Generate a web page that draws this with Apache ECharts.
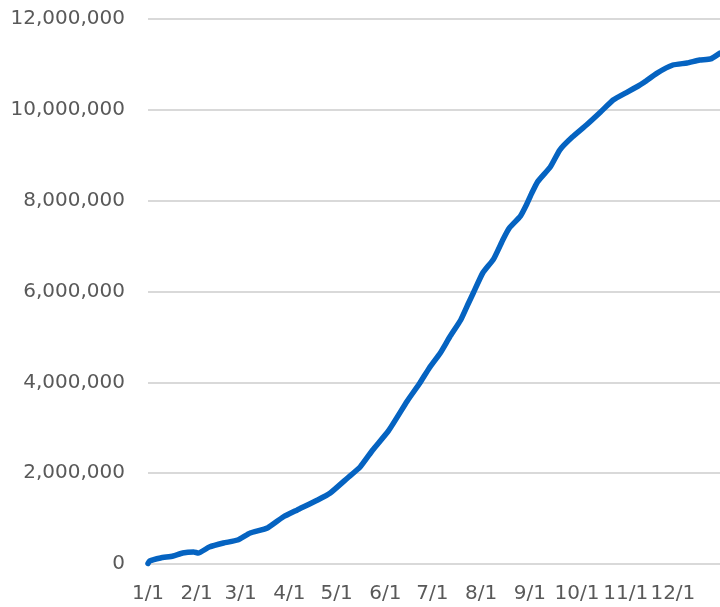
<!DOCTYPE html>
<html>
<head>
<meta charset="utf-8">
<script src="https://cdn.jsdelivr.net/npm/echarts@6/dist/echarts.min.js"></script>
<style>
  html, body { margin: 0; padding: 0; background: #ffffff; }
  #chart { width: 720px; height: 607px; }
</style>
</head>
<body>
<div id="chart"></div>
<script>
// Month lengths used to build the daily category axis (M/D)
const monthLengths = [31, 28, 31, 30, 31, 30, 31, 31, 30, 31, 30, 31];

// Cumulative total, sampled along the year
const sampleDates = [
  "1/1", "1/2", "1/9", "1/17", "1/23", "1/30", "2/2", "2/9", "2/18", "2/27",
  "3/7", "3/18", "3/28", "4/6", "4/19", "4/27", "5/8", "5/16", "5/24", "6/3",
  "6/15", "6/23", "6/29", "7/6", "7/12", "7/19", "7/24", "7/27", "8/2",
  "8/9", "8/15", "8/19", "8/26", "8/30", "9/2", "9/6", "9/14", "9/20", "9/28",
  "10/7", "10/16", "10/24", "11/2", "11/9", "11/12", "11/21", "12/1", "12/10", "12/18",
  "12/25", "12/31"
];
const sampleValues = [
  10000, 66000, 132000, 176000, 242000, 264000, 242000, 374000, 462000, 528000,
  683000, 793000, 1035000, 1190000, 1410000, 1563000, 1894000, 2136000, 2510000, 2930000,
  3590000, 3985000, 4316000, 4646000, 4998000, 5372000, 5747000, 5967000, 6407000,
  6720000, 7150000, 7400000, 7660000, 7920000, 8150000, 8420000, 8741000, 9115000, 9400000,
  9666000, 9952000, 10216000, 10392000, 10525000, 10590000, 10810000, 10987000, 11031000, 11097000,
  11120000, 11250000
];

// Y axis range
const yMin = 0;
const yMax = 12000000;
const yStep = 2000000;

const days = [];
monthLengths.forEach((len, m) => {
  for (let d = 1; d <= len; d++) days.push((m + 1) + "/" + d);
});

const chart = echarts.init(document.getElementById("chart"), null, { renderer: "canvas" });
const fontFamily = "'DejaVu Sans', sans-serif";

chart.setOption({
  animation: false,
  backgroundColor: "#ffffff",
  grid: { left: 148, right: 0, top: 19, bottom: 43, containLabel: false },
  xAxis: {
    type: "category",
    data: days,
    boundaryGap: false,
    axisLine: { show: true, lineStyle: { color: "#d9d9d9", width: 2 } },
    axisTick: { show: false },
    splitLine: { show: false },
    axisLabel: {
      interval: (idx, val) => val.split("/")[1] === "1",
      color: "#595959",
      fontFamily: fontFamily,
      fontSize: 20,
      margin: 20
    }
  },
  yAxis: {
    type: "value",
    min: yMin,
    max: yMax,
    interval: yStep,
    axisLine: { show: false },
    axisTick: { show: false },
    splitLine: { show: true, lineStyle: { color: "#d9d9d9", width: 2 } },
    axisLabel: {
      color: "#595959",
      fontFamily: fontFamily,
      fontSize: 20,
      margin: 23,
      formatter: v => v.toLocaleString("en-US")
    }
  },
  series: [{
    type: "line",
    data: sampleDates.map((d, i) => [d, sampleValues[i]]),
    showSymbol: false,
    smooth: 0.15,
    lineStyle: { color: "#0563c1", width: 5.5, cap: "round", join: "round" },
    itemStyle: { color: "#0563c1" }
  }]
});
</script>
</body>
</html>
